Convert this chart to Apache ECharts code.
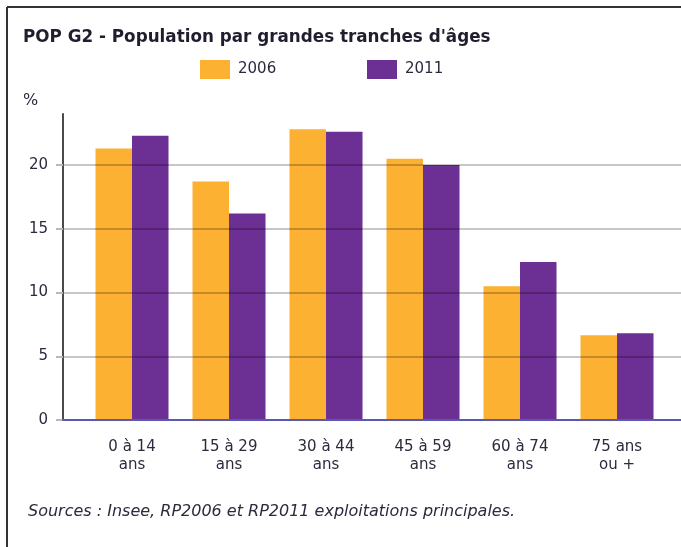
<!DOCTYPE html>
<html>
<head>
<meta charset="utf-8">
<script src="https://cdn.jsdelivr.net/npm/echarts@6/dist/echarts.min.js"></script>
<style>
  html, body { margin: 0; padding: 0; background: #fff; }
  #main { width: 681px; height: 547px; }
</style>
</head>
<body>
<div id="main"></div>
<script>
const categories = ['0 à 14\nans', '15 à 29\nans', '30 à 44\nans', '45 à 59\nans', '60 à 74\nans', '75 ans\nou +']
const years = ['2006', '2011']
const values2006 = [21.3, 18.7, 22.8, 20.5, 10.5, 6.65]
const values2011 = [22.3, 16.2, 22.6, 20.0, 12.4, 6.8]
const yTicks = [0, 5, 10, 15, 20]

const font = 'DejaVu Sans'
const textColor = '#2b2b3d'

const chart = echarts.init(document.getElementById('main'))

chart.setOption({
  animation: false,
  color: ['#fdb132', '#6c2f93'],
  title: {
    text: "POP G2 - Population par grandes tranches d'âges",
    left: 23, top: 28, padding: 0,
    textStyle: { fontFamily: font, fontSize: 16.8, fontWeight: 'bold', color: '#1e1e2e', lineHeight: 20 }
  },
  legend: [
    { data: ['2006'], left: 200, top: 60, padding: 0, itemWidth: 30, itemHeight: 19, icon: 'rect',
      textStyle: { fontFamily: font, fontSize: 15, color: textColor, padding: [0, 0, 0, 3] } },
    { data: ['2011'], left: 367, top: 60, padding: 0, itemWidth: 30, itemHeight: 19, icon: 'rect',
      textStyle: { fontFamily: font, fontSize: 15, color: textColor, padding: [0, 0, 0, 3] } }
  ],
  grid: [
    { left: 63, right: 0, top: 114, bottom: 127 },
    { left: 83.5, right: 15.5, top: 114, bottom: 127 }
  ],
  xAxis: [
    { gridIndex: 0, type: 'value', min: 0, max: 1, z: 5,
      axisLine: { show: true, lineStyle: { color: '#5b58b0', width: 2 } },
      axisTick: { show: false }, axisLabel: { show: false }, splitLine: { show: false } },
    { gridIndex: 1, type: 'category', data: categories,
      axisLine: { show: false }, axisTick: { show: false },
      axisLabel: { fontFamily: font, fontSize: 15, color: textColor, lineHeight: 18, margin: 18, interval: 0 } }
  ],
  yAxis: [
    { gridIndex: 0, type: 'value', min: 0, max: 24, interval: 5, z: 4,
      axisLine: { show: true, lineStyle: { color: '#4a4a4a', width: 2 } },
      axisTick: { show: true, length: 7, customValues: yTicks, lineStyle: { color: '#b8b8b8', width: 2 } },
      axisLabel: { customValues: yTicks, margin: 15, fontFamily: font, fontSize: 15, color: textColor },
      splitLine: { show: true, lineStyle: { color: 'rgba(0,0,0,0.22)', width: 2 } } },
    { gridIndex: 1, type: 'value', min: 0, max: 24, show: false }
  ],
  series: [
    { name: years[0], type: 'bar', xAxisIndex: 1, yAxisIndex: 1, data: values2006, barWidth: 36.5, barGap: '0%' },
    { name: years[1], type: 'bar', xAxisIndex: 1, yAxisIndex: 1, data: values2011, barWidth: 36.5, barGap: '0%' }
  ],
  graphic: [
    { type: 'line', shape: { x1: 7, y1: 7, x2: 681, y2: 7 }, style: { stroke: '#333', lineWidth: 2 } },
    { type: 'line', shape: { x1: 7, y1: 7, x2: 7, y2: 547 }, style: { stroke: '#333', lineWidth: 2 } },
    { type: 'text', style: { text: '%', x: 23, y: 101, font: '16px "DejaVu Sans"', fill: textColor, textVerticalAlign: 'middle' } },
    { type: 'text', style: { text: 'Sources : Insee, RP2006 et RP2011 exploitations principales.', x: 28, y: 512,
      font: 'italic 16px "DejaVu Sans"', fill: textColor, textVerticalAlign: 'middle' } }
  ]
})
</script>
</body>
</html>
